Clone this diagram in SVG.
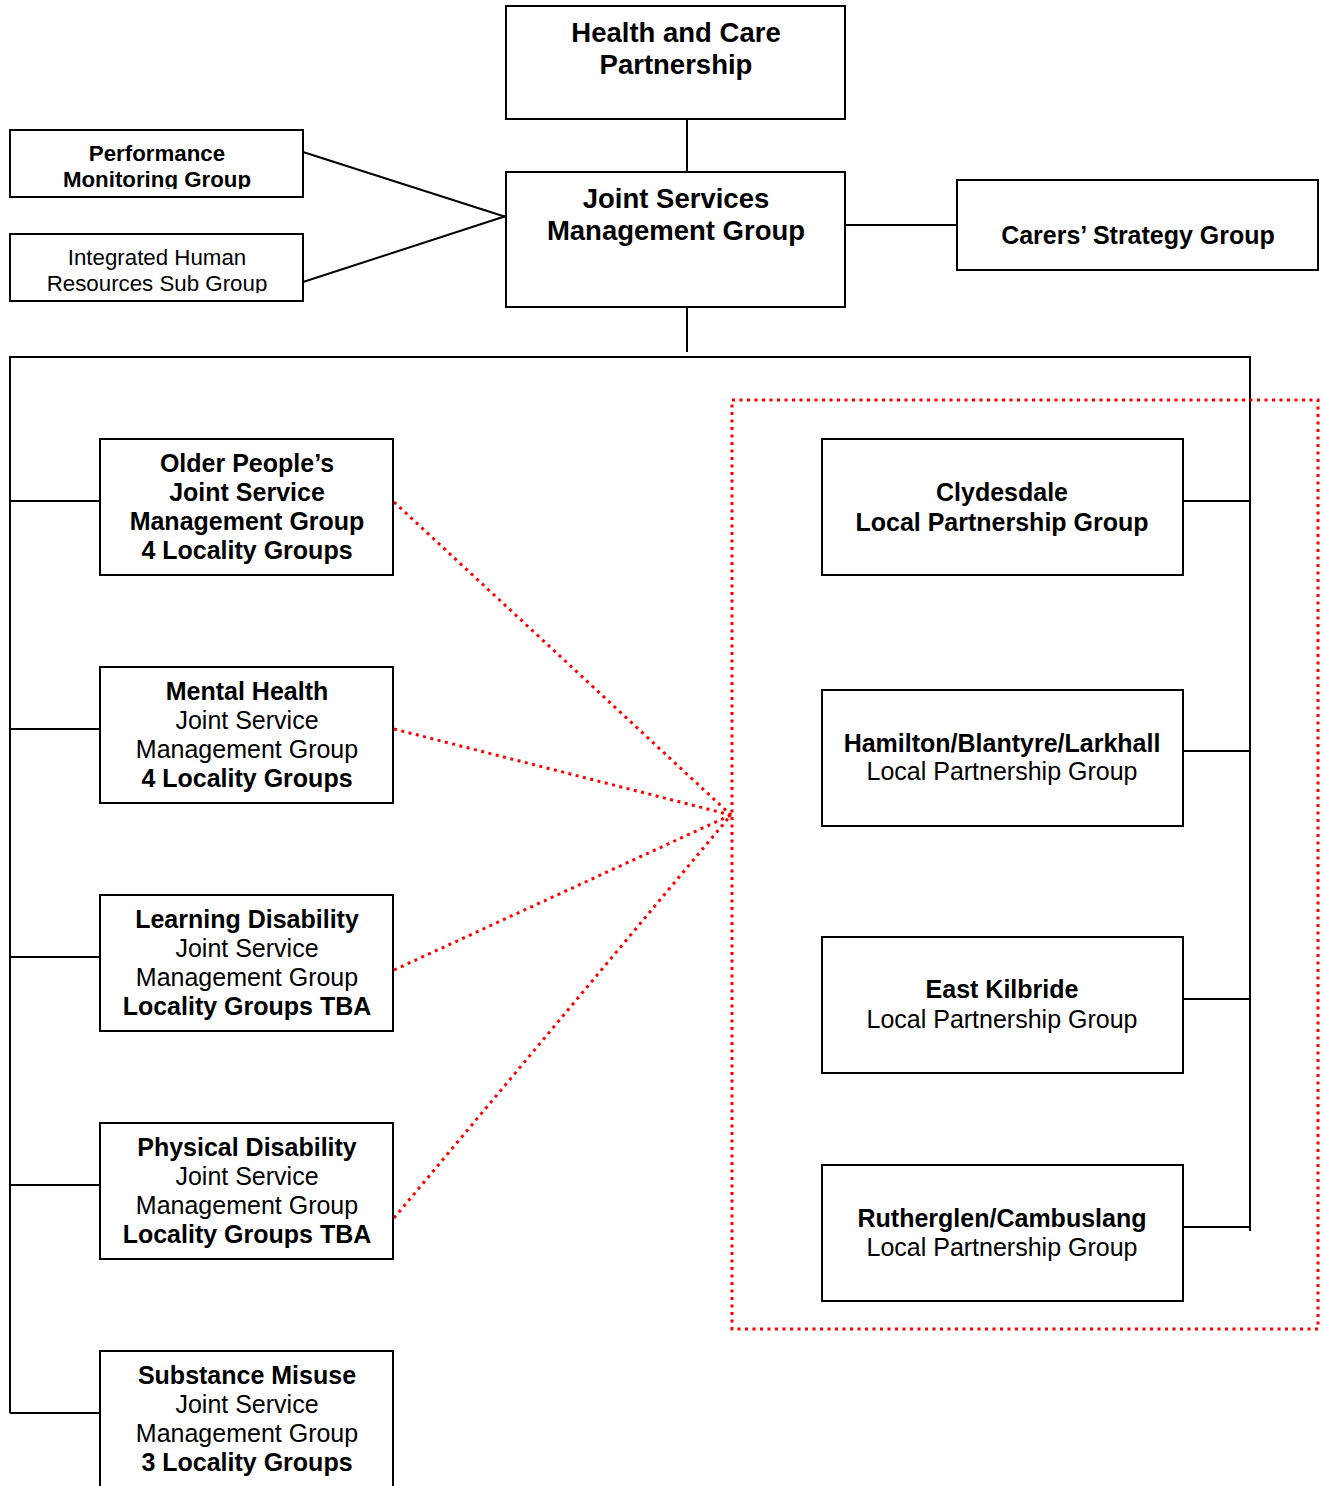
<svg xmlns="http://www.w3.org/2000/svg" width="1324" height="1486" viewBox="0 0 1324 1486">
<style>
.box{fill:#fff;stroke:#000;stroke-width:2}
.ln{fill:none;stroke:#000;stroke-width:2}
.red{fill:none;stroke:#ff0000;stroke-width:3;stroke-dasharray:3 4.5}
text{font-family:"Liberation Sans",Arial,sans-serif;fill:#000;text-anchor:middle}
.b{font-weight:bold}
.t27{font-size:27.5px}
.t25{font-size:25px}
.t22{font-size:22.3px}
</style>
<defs>
<clipPath id="cp1"><rect x="10" y="130" width="293" height="59"/></clipPath>
<clipPath id="cp2"><rect x="10" y="234" width="293" height="59"/></clipPath>
</defs>
<rect x="0" y="0" width="1324" height="1486" fill="#fff"/>
<g id="connectors">
<line class="ln" x1="687" y1="119" x2="687" y2="172"/>
<line class="ln" x1="687" y1="307" x2="687" y2="352"/>
<polyline class="ln" points="10,1413 10,357 1250,357 1250,1231"/>
<line class="ln" x1="303" y1="152" x2="506" y2="217"/>
<line class="ln" x1="303" y1="282" x2="506" y2="216"/>
<line class="ln" x1="845" y1="225" x2="957" y2="225"/>
<line class="ln" x1="10" y1="501" x2="100" y2="501"/>
<line class="ln" x1="10" y1="729" x2="100" y2="729"/>
<line class="ln" x1="10" y1="957" x2="100" y2="957"/>
<line class="ln" x1="10" y1="1185" x2="100" y2="1185"/>
<line class="ln" x1="10" y1="1413" x2="100" y2="1413"/>
<line class="ln" x1="1183" y1="501" x2="1250" y2="501"/>
<line class="ln" x1="1183" y1="751" x2="1250" y2="751"/>
<line class="ln" x1="1183" y1="999" x2="1250" y2="999"/>
<line class="ln" x1="1183" y1="1227" x2="1250" y2="1227"/>
<line class="red" x1="394" y1="502" x2="731" y2="815"/>
<line class="red" x1="394" y1="729" x2="731" y2="815"/>
<line class="red" x1="394" y1="970" x2="731" y2="815"/>
<line class="red" x1="394" y1="1218" x2="731" y2="815"/>
<rect class="red" x="732" y="400" width="586" height="929"/>
</g>
<g id="hcp">
<rect class="box" x="506" y="6" width="339" height="113"/>
<text class="b t27" x="676" y="42">Health and Care</text>
<text class="b t27" x="676" y="74">Partnership</text>
</g>
<g id="jsmg">
<rect class="box" x="506" y="172" width="339" height="135"/>
<text class="b t27" x="676" y="208">Joint Services</text>
<text class="b t27" x="676" y="240">Management Group</text>
</g>
<g id="pmg">
<rect class="box" x="10" y="130" width="293" height="67"/>
<g clip-path="url(#cp1)">
<text class="b t22" x="157" y="161">Performance</text>
<text class="b t22" x="157" y="187">Monitoring Group</text>
</g>
</g>
<g id="ihr">
<rect class="box" x="10" y="234" width="293" height="67"/>
<g clip-path="url(#cp2)">
<text class="t22" x="157" y="265">Integrated Human</text>
<text class="t22" x="157" y="291">Resources Sub Group</text>
</g>
</g>
<g id="carers">
<rect class="box" x="957" y="180" width="361" height="90"/>
<text class="b t25" x="1138" y="244">Carers’ Strategy Group</text>
</g>
<g id="older">
<rect class="box" x="100" y="439" width="293" height="136"/>
<text class="b t25" x="247" y="472">Older People’s</text>
<text class="b t25" x="247" y="501">Joint Service</text>
<text class="b t25" x="247" y="530">Management Group</text>
<text class="b t25" x="247" y="559">4 Locality Groups</text>
</g>
<g id="mental">
<rect class="box" x="100" y="667" width="293" height="136"/>
<text class="b t25" x="247" y="700">Mental Health</text>
<text class="t25" x="247" y="729">Joint Service</text>
<text class="t25" x="247" y="758">Management Group</text>
<text class="b t25" x="247" y="787">4 Locality Groups</text>
</g>
<g id="learning">
<rect class="box" x="100" y="895" width="293" height="136"/>
<text class="b t25" x="247" y="928">Learning Disability</text>
<text class="t25" x="247" y="957">Joint Service</text>
<text class="t25" x="247" y="986">Management Group</text>
<text class="b t25" x="247" y="1015">Locality Groups TBA</text>
</g>
<g id="physical">
<rect class="box" x="100" y="1123" width="293" height="136"/>
<text class="b t25" x="247" y="1156">Physical Disability</text>
<text class="t25" x="247" y="1185">Joint Service</text>
<text class="t25" x="247" y="1214">Management Group</text>
<text class="b t25" x="247" y="1243">Locality Groups TBA</text>
</g>
<g id="substance">
<rect class="box" x="100" y="1351" width="293" height="140"/>
<text class="b t25" x="247" y="1384">Substance Misuse</text>
<text class="t25" x="247" y="1413">Joint Service</text>
<text class="t25" x="247" y="1442">Management Group</text>
<text class="b t25" x="247" y="1471">3 Locality Groups</text>
</g>
<g id="clydesdale">
<rect class="box" x="822" y="439" width="361" height="136"/>
<text class="b t25" x="1002" y="501">Clydesdale</text>
<text class="b t25" x="1002" y="531">Local Partnership Group</text>
</g>
<g id="hamilton">
<rect class="box" x="822" y="690" width="361" height="136"/>
<text class="b t25" x="1002" y="752">Hamilton/Blantyre/Larkhall</text>
<text class="t25" x="1002" y="780">Local Partnership Group</text>
</g>
<g id="eastkilbride">
<rect class="box" x="822" y="937" width="361" height="136"/>
<text class="b t25" x="1002" y="998">East Kilbride</text>
<text class="t25" x="1002" y="1028">Local Partnership Group</text>
</g>
<g id="rutherglen">
<rect class="box" x="822" y="1165" width="361" height="136"/>
<text class="b t25" x="1002" y="1227">Rutherglen/Cambuslang</text>
<text class="t25" x="1002" y="1256">Local Partnership Group</text>
</g>
</svg>
